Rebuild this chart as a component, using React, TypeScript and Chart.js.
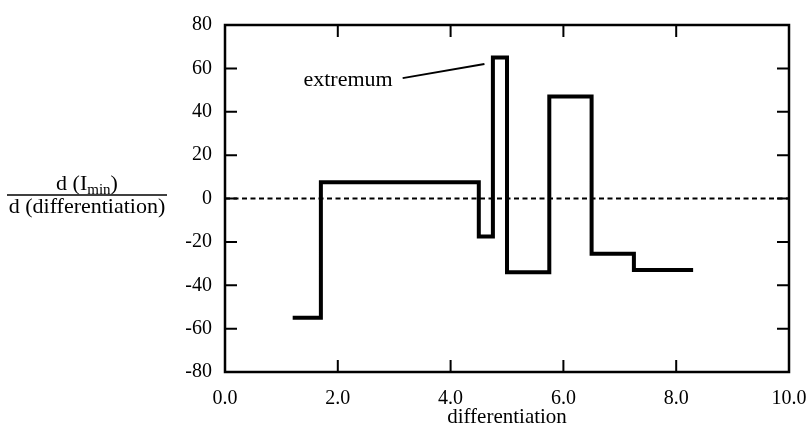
import React, { useEffect, useRef } from "react";
import { Chart, registerables } from "chart.js";

Chart.register(...registerables);

// ---- data ----
const stepX = [1.2, 1.7, 4.5, 4.75, 5.0, 5.75, 6.5, 7.25, 8.3];
const stepY = [-55, 7.5, -17.5, 65, -34, 47, -25.5, -33, -33];
const zeroLineX = [0, 10];
const zeroLineY = [0, 0];
const xTickValues = [0, 2, 4, 6, 8, 10];
const yTickValues = [-80, -60, -40, -20, 0, 20, 40, 60, 80];
const xTitle = "differentiation";
const yTitleNumerator = "d (I";
const yTitleSubscript = "min";
const yTitleNumeratorEnd = ")";
const yTitleDenominator = "d (differentiation)";
const annotationText = "extremum";
const annotationLineX = [3.15, 4.6];
const annotationLineY = [55.5, 62];

const SERIF = "'Liberation Serif', 'Times New Roman', serif";

const framePlugin = {
  id: "frameTicks",
  afterDatasetsDraw(chart: any) {
    const { ctx, chartArea } = chart;
    const xs = chart.scales.x;
    const ys = chart.scales.y;
    const { left, right, top, bottom } = chartArea;
    const tl = 12;
    ctx.save();
    ctx.strokeStyle = "#000";
    ctx.lineWidth = 2;
    ctx.lineCap = "butt";
    ctx.beginPath();
    xs.ticks.forEach((t: any) => {
      const px = xs.getPixelForValue(t.value);
      ctx.moveTo(px, bottom);
      ctx.lineTo(px, bottom - tl);
      ctx.moveTo(px, top);
      ctx.lineTo(px, top + tl);
    });
    ys.ticks.forEach((t: any) => {
      const py = ys.getPixelForValue(t.value);
      ctx.moveTo(left, py);
      ctx.lineTo(left + tl, py);
      ctx.moveTo(right, py);
      ctx.lineTo(right - tl, py);
    });
    ctx.stroke();
    ctx.lineWidth = 2.5;
    ctx.strokeRect(left, top, right - left, bottom - top);
    ctx.restore();
  },
  afterDraw(chart: any) {
    const { ctx } = chart;
    const xs = chart.scales.x;
    const ys = chart.scales.y;
    ctx.save();
    ctx.fillStyle = "#000";
    ctx.strokeStyle = "#000";
    // y-axis title as a fraction
    const cx = 87;
    const zeroPx = ys.getPixelForValue(0);
    const lineY = zeroPx - 3.5;
    const bigFont = `22px ${SERIF}`;
    const subFont = `15px ${SERIF}`;
    ctx.font = bigFont;
    const w1 = ctx.measureText(yTitleNumerator).width;
    const w3 = ctx.measureText(yTitleNumeratorEnd).width;
    ctx.font = subFont;
    const w2 = ctx.measureText(yTitleSubscript).width;
    let sx = cx - (w1 + w2 + w3) / 2;
    ctx.textBaseline = "alphabetic";
    ctx.textAlign = "left";
    ctx.font = bigFont;
    ctx.fillText(yTitleNumerator, sx, lineY - 5.5);
    sx += w1;
    ctx.font = subFont;
    ctx.fillText(yTitleSubscript, sx, lineY - 1.5);
    sx += w2;
    ctx.font = bigFont;
    ctx.fillText(yTitleNumeratorEnd, sx, lineY - 5.5);
    ctx.lineWidth = 1.5;
    ctx.beginPath();
    ctx.moveTo(7, lineY);
    ctx.lineTo(167, lineY);
    ctx.stroke();
    ctx.textAlign = "center";
    ctx.fillText(yTitleDenominator, cx, lineY + 18);
    // annotation text
    ctx.font = `22px ${SERIF}`;
    ctx.textAlign = "right";
    ctx.textBaseline = "alphabetic";
    const tx = xs.getPixelForValue(annotationLineX[0]) - 10;
    const ty = ys.getPixelForValue(annotationLineY[0]) + 8;
    ctx.fillText(annotationText, tx, ty);
    ctx.restore();
  },
};

export default function App() {
  const canvasRef = useRef<HTMLCanvasElement | null>(null);

  useEffect(() => {
    if (!canvasRef.current) return;
    const chart = new Chart(canvasRef.current, {
      type: "line",
      data: {
        datasets: [
          {
            data: stepX.map((x, i) => ({ x, y: stepY[i] })),
            stepped: "before",
            borderColor: "#000",
            borderWidth: 4,
            pointRadius: 0,
            fill: false,
            borderJoinStyle: "miter",
            borderCapStyle: "butt",
          },
          {
            data: zeroLineX.map((x, i) => ({ x, y: zeroLineY[i] })),
            borderColor: "#000",
            borderWidth: 2,
            borderDash: [5, 3.5],
            pointRadius: 0,
            fill: false,
          },
          {
            data: annotationLineX.map((x, i) => ({ x, y: annotationLineY[i] })),
            borderColor: "#000",
            borderWidth: 2,
            pointRadius: 0,
            fill: false,
          },
        ],
      } as any,
      options: {
        animation: false,
        responsive: false,
        maintainAspectRatio: false,
        layout: { padding: { left: 0, right: 0, top: 22, bottom: 0 } },
        plugins: { legend: { display: false }, tooltip: { enabled: false } },
        scales: {
          x: {
            type: "linear",
            min: 0,
            max: 10,
            afterFit: (s: any) => {
              s.height = 58;
              s.paddingRight = 17;
            },
            afterBuildTicks: (s: any) => {
              s.ticks = xTickValues.map((v) => ({ value: v }));
            },
            grid: { display: false, drawTicks: false },
            border: { display: false },
            ticks: {
              color: "#000",
              padding: 15,
              font: { family: SERIF, size: 20 },
              callback: (v: any) => Number(v).toFixed(1),
            },
            title: {
              display: true,
              text: xTitle,
              color: "#000",
              font: { family: SERIF, size: 21 },
              padding: { top: 0, bottom: 0 },
            },
          },
          y: {
            type: "linear",
            min: -80,
            max: 80,
            afterFit: (s: any) => {
              s.width = 225;
            },
            afterBuildTicks: (s: any) => {
              s.ticks = yTickValues.map((v) => ({ value: v }));
            },
            grid: { display: false, drawTicks: false },
            border: { display: false },
            ticks: {
              color: "#000",
              padding: 13,
              font: { family: SERIF, size: 20 },
              callback: (v: any) => String(v),
            },
          },
        },
      } as any,
      plugins: [framePlugin],
    });
    return () => chart.destroy();
  }, []);

  return (
    <div style={{ position: "absolute", left: 0, top: 0, width: 806, height: 430, background: "#fff" }}>
      <canvas ref={canvasRef} width={806} height={430} style={{ display: "block" }} />
    </div>
  );
}
